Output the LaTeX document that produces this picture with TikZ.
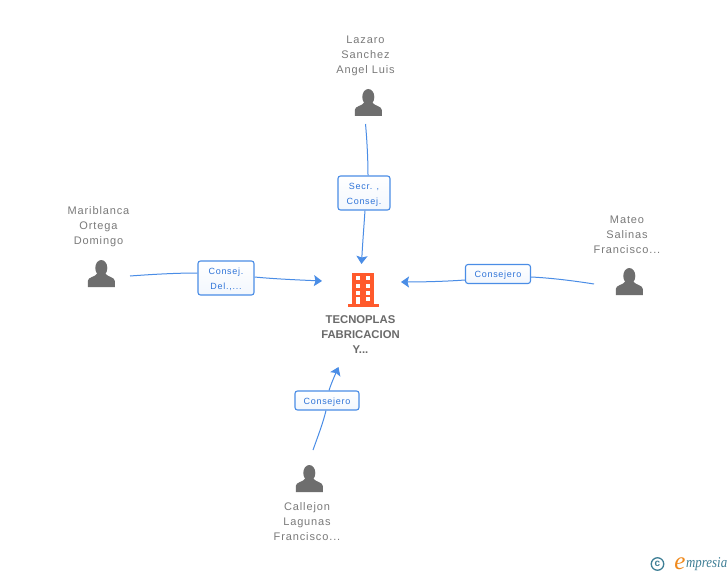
\documentclass[tikz,border=0pt]{standalone}
\usepackage{fontspec}
\setmainfont{Liberation Sans}
\newfontfamily\spaced[LetterSpace=8]{Liberation Sans}
\newfontfamily\spacedb{Liberation Sans}
\newfontfamily\logofont{Liberation Serif}
\usetikzlibrary{arrows.meta}
\definecolor{edgeblue}{HTML}{4A8DE6}
\definecolor{labelblue}{HTML}{2F74D8}
\definecolor{persongray}{HTML}{6E6E6E}
\definecolor{textgray}{HTML}{7A7A7A}
\definecolor{corpgray}{HTML}{6A6A6A}
\definecolor{corporange}{HTML}{FF5A2C}
\definecolor{logoblue}{HTML}{3F7F96}
\definecolor{logoorange}{HTML}{F08A1D}
\newcommand{\boxstrut}{\rule{0pt}{9pt}}
\tikzset{
  x=1pt,y=-1pt,
  personname/.style={font=\spaced\fontsize{11}{15}\selectfont,text=textgray,align=center,inner sep=0pt,anchor=center},
  corpname/.style={font=\spacedb\bfseries\fontsize{11.3}{15}\selectfont,text=corpgray,align=center,inner sep=0pt,anchor=center},
  rolebox/.style={draw=edgeblue,line width=1.1pt,rounded corners=2.5pt,top color=white,bottom color=white!93!edgeblue,font=\spaced\fontsize{9}{15}\selectfont,text=labelblue,align=center,inner sep=0pt,anchor=center},
  personicon/.style={inner sep=0pt,minimum width=27pt,minimum height=27pt,anchor=center},
  edgeline/.style={draw=edgeblue,line width=1pt},
  edgearrow/.style={edgeline,-{Stealth[inset=1.5pt,length=8pt,width=11pt,color=edgeblue]}},
  person/.pic={
    \fill[persongray] (0,-5.5) ellipse (6 and 8);
    \fill[persongray] (-13.5,13.5) -- (-13.5,7.5) .. controls (-13.5,3.5) and (-6,3.5) .. (-4,0) -- (4,0) .. controls (6,3.5) and (13.5,3.5) .. (13.5,7.5) -- (13.5,13.5) -- cycle;
  }
}
\begin{document}
\begin{tikzpicture}
\useasboundingbox (0,0) rectangle (728,575);
\fill[white] (0,0) rectangle (728,575);

% person icons
\node[personicon] (lazaro) at (368.3,102.5) {};
\node[personicon] (mariblanca) at (101.3,273.5) {};
\node[personicon] (mateo) at (629.3,281.5) {};
\node[personicon] (callejon) at (309.3,478.5) {};
\pic at (lazaro) {person};
\pic at (mariblanca) {person};
\pic at (mateo) {person};
\pic at (callejon) {person};

% names
\node[personname] at (365.5,55.5) {Lazaro\\Sanchez\\Angel Luis};
\node[personname] at (98.5,226.5) {Mariblanca\\Ortega\\Domingo};
\node[personname] at (627,234.5) {Mateo\\Salinas\\Francisco...};
\node[personname] at (307,521.5) {Callejon\\Lagunas\\Francisco...};

% company
\node[inner sep=0pt,minimum width=31pt,minimum height=34pt] (corp) at (363.5,290) {};
\fill[corporange] (352,273) rectangle (374,304.5);
\fill[corporange] (347.7,304.3) rectangle (379,306.5);
\foreach \yy in {276,283.5,290.5}{
  \fill[white] (355.7,\yy) rectangle ++(4.6,4);
  \fill[white] (365.7,\yy) rectangle ++(4.6,4);
}
\fill[white] (355.7,296.8) rectangle (360.3,304.3);
\fill[white] (365.7,296.8) rectangle ++(4.6,4);
\node[corpname] at (360.5,334.5) {TECNOPLAS\\FABRICACION\\Y...};

% role boxes
\node[rolebox,minimum width=52pt,minimum height=34pt] (b1) at (364,193) {\boxstrut Secr. ,\\Consej.};
\node[rolebox,minimum width=56pt,minimum height=34pt] (b2) at (226,278) {\boxstrut Consej.\\Del.,...};
\node[rolebox,minimum width=65pt,minimum height=19pt] (b3) at (498,274) {\boxstrut Consejero};
\node[rolebox,minimum width=64pt,minimum height=19pt] (b4) at (327,400.5) {\boxstrut Consejero};

% free ends
\coordinate (laz) at (365.5,124);
\coordinate (mar) at (130,276);
\coordinate (mat) at (594,284);
\coordinate (cal) at (313,450);
\coordinate (tipN) at (361.5,264);
\coordinate (tipW) at (322,281);
\coordinate (tipE) at (401,282);
\coordinate (tipS) at (338.5,367);

% connectors
\draw[edgeline] (laz) .. controls (367,140) and (368,160) .. ([xshift=4pt]b1.north);
\draw[edgearrow] ([xshift=1pt]b1.south) .. controls (364,225) and (362.5,245) .. (tipN);
\draw[edgeline] (mar) .. controls (150,274.5) and (175,273) .. (b2.west |- 0,273);
\draw[edgearrow] (b2.east |- 0,277) .. controls (275,279) and (300,280) .. (tipW);
\draw[edgeline] (mat) .. controls (575,281) and (552,278) .. (b3.east |- 0,277);
\draw[edgearrow] (b3.west |- 0,280) .. controls (445,281.5) and (420,282) .. (tipE);
\draw[edgeline] (cal) .. controls (318,436) and (323,423) .. ([xshift=-1pt]b4.south);
\draw[edgearrow] ([xshift=2pt]b4.north) .. controls (331,384) and (335,375) .. (tipS);

% logo
\node[draw=logoblue,line width=1.3pt,circle,inner sep=0pt,minimum size=12.5pt,font=\spacedb\bfseries\fontsize{10}{10}\selectfont,text=logoblue] (copyr) at (657.5,564) {c};
\node[inner sep=0pt,font=\logofont\itshape\fontsize{25}{25}\selectfont,text=logoorange] (loge) at (680,563.5) {e};
\node[inner sep=0pt,anchor=west,xscale=0.86,font=\logofont\itshape\fontsize{15}{15}\selectfont,text=logoblue] (logt) at (686,564.5) {mpresia};
\end{tikzpicture}
\end{document}
